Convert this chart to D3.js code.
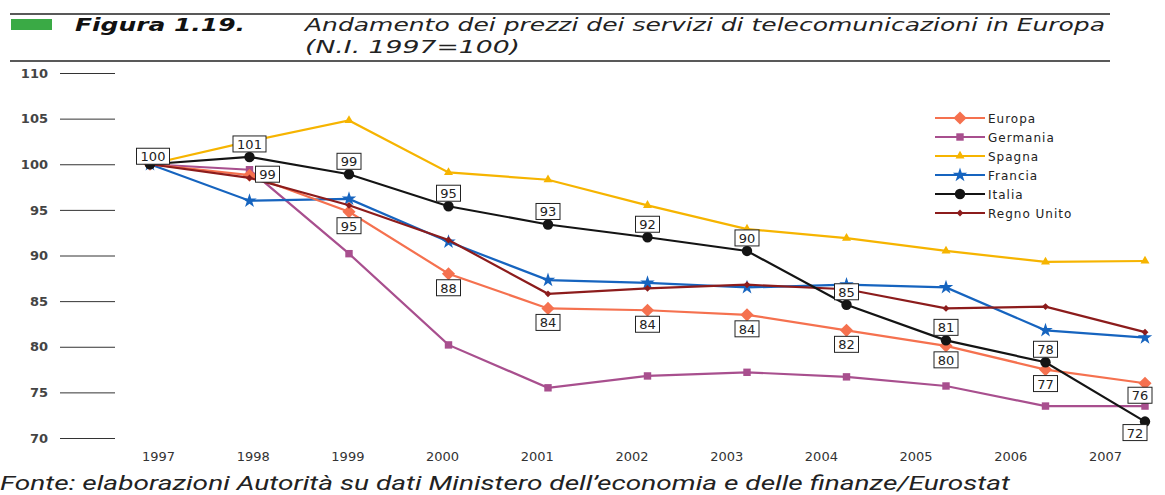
<!DOCTYPE html>
<html>
<head>
<meta charset="utf-8">
<script src="https://cdn.jsdelivr.net/npm/d3@7"></script>
<style>
	body { margin: 0; background: #fff; }
	text { font-family: "DejaVu Sans", Verdana, sans-serif; }
</style>
</head>
<body>
<svg id="chart"></svg>
<script>
// Chart data
const years = [1997, 1998, 1999, 2000, 2001, 2002, 2003, 2004, 2005, 2006, 2007];
const europa = [100, 98.8, 94.8, 88.0, 84.2, 84.0, 83.5, 81.8, 80.1, 77.5, 76.0];
const germania = [100, 99.4, 90.2, 80.2, 75.5, 76.8, 77.2, 76.7, 75.7, 73.5, 73.5];
const spagna = [100, 102.5, 104.8, 99.1, 98.3, 95.5, 92.9, 91.9, 90.5, 89.3, 89.4];
const francia = [100, 96.0, 96.2, 91.5, 87.3, 87.0, 86.5, 86.8, 86.5, 81.8, 81.0];
const italia = [100, 100.8, 98.9, 95.4, 93.4, 92.0, 90.5, 84.6, 80.7, 78.3, 71.8];
const regnoUnito = [100, 98.5, 95.5, 91.7, 85.8, 86.4, 86.8, 86.3, 84.2, 84.4, 81.6];

const italiaLabels = ["100", "101", "99", "95", "93", "92", "90", "85", "81", "78", "72"];
const europaLabels = [null, "99", "95", "88", "84", "84", "84", "82", "80", "77", "76"];

const yTicks = [70, 75, 80, 85, 90, 95, 100, 105, 110];

const width = 1165;
const height = 495;

const series = [
	{ name: "Germania", values: germania, color: "#a84f8e", symbol: d3.symbolSquare, size: 55 },
	{ name: "Spagna", values: spagna, color: "#f6b400", symbol: d3.symbolTriangle, size: 35 },
	{ name: "Francia", values: francia, color: "#1664bf", symbol: d3.symbolStar, size: 65 },
	{ name: "Europa", values: europa, color: "#f5714f", symbol: d3.symbolDiamond2, size: 110 },
	{ name: "Regno Unito", values: regnoUnito, color: "#8c1c1c", symbol: d3.symbolDiamond2, size: 30 },
	{ name: "Italia", values: italia, color: "#141414", symbol: d3.symbolCircle, size: 85 },
];
const legendOrder = ["Europa", "Germania", "Spagna", "Francia", "Italia", "Regno Unito"];

const svg = d3.select("#chart").attr("width", width).attr("height", height);

// Header
svg.append("line").attr("x1", 10).attr("x2", 1110).attr("y1", 14).attr("y2", 14)
	.attr("stroke", "#222").attr("stroke-width", 1.5);
svg.append("line").attr("x1", 10).attr("x2", 1110).attr("y1", 61).attr("y2", 61)
	.attr("stroke", "#222").attr("stroke-width", 1.5);
svg.append("rect").attr("x", 11).attr("y", 19).attr("width", 41).attr("height", 11).attr("fill", "#3aaa45");
svg.append("text").attr("x", 75).attr("y", 31)
	.attr("font-size", 18).attr("font-weight", "bold").attr("font-style", "italic")
	.attr("textLength", 170).attr("lengthAdjust", "spacingAndGlyphs")
	.attr("fill", "#111").text("Figura 1.19.");
svg.append("text").attr("x", 305).attr("y", 31)
	.attr("font-size", 18).attr("font-style", "italic").attr("fill", "#222")
	.attr("textLength", 800).attr("lengthAdjust", "spacingAndGlyphs")
	.text("Andamento dei prezzi dei servizi di telecomunicazioni in Europa");
svg.append("text").attr("x", 305).attr("y", 53)
	.attr("font-size", 18).attr("font-style", "italic").attr("fill", "#222")
	.attr("textLength", 215).attr("lengthAdjust", "spacingAndGlyphs")
	.text("(N.I. 1997=100)");

// Scales
const xScale = d3.scaleLinear().domain([1997, 2007]).range([150, 1145]);
const xLabelScale = d3.scaleLinear().domain([1997, 2007]).range([158, 1105]);
const yScale = d3.scaleLinear().domain([70, 110]).range([438, 73]);

// Y axis
const yAxis = svg.append("g")
	.attr("transform", "translate(115,0)")
	.call(d3.axisLeft(yScale).tickValues(yTicks).tickSize(55).tickPadding(12));
yAxis.select(".domain").remove();
yAxis.selectAll("line").attr("stroke", "#333");
yAxis.selectAll("text").attr("font-size", 13).attr("font-weight", "bold")
	.attr("fill", "#444").style("font-family", "DejaVu Sans, sans-serif");

// X axis labels
const xAxis = svg.append("g")
	.attr("transform", "translate(0,446)")
	.call(d3.axisBottom(xLabelScale).tickValues(years).tickFormat(d3.format("d")).tickSize(0).tickPadding(6));
xAxis.select(".domain").remove();
xAxis.selectAll("text").attr("font-size", 13)
	.attr("fill", "#333").style("font-family", "DejaVu Sans, sans-serif");

// Lines
const line = d3.line().x((d, i) => xScale(years[i])).y((d) => yScale(d));

series.forEach((s) => {
	svg.append("path")
		.datum(s.values)
		.attr("d", line)
		.attr("fill", "none")
		.attr("stroke", s.color)
		.attr("stroke-width", 2.2);

	svg.selectAll(null)
		.data(s.values)
		.join("path")
		.attr("transform", (d, i) => `translate(${xScale(years[i])},${yScale(d)})`)
		.attr("d", d3.symbol().type(s.symbol).size(s.size))
		.attr("fill", s.color);
});

// Value labels
function drawLabel(x, y, txt) {
	const g = svg.append("g").attr("transform", `translate(${x},${y})`);
	const w = txt.length * 9 + 6;
	g.append("rect").attr("x", -w / 2).attr("y", -8).attr("width", w).attr("height", 16)
		.attr("fill", "#fff").attr("stroke", "#222").attr("stroke-width", 1);
	g.append("text").attr("text-anchor", "middle").attr("y", 5)
		.attr("font-size", 13).attr("fill", "#222").text(txt);
}

italia.forEach((v, i) => {
	const x = xScale(years[i]);
	const y = yScale(v);
	if (i === italia.length - 1) drawLabel(x - 10, y + 11, italiaLabels[i]);
	else if (i === 0) drawLabel(x + 3, y - 8, italiaLabels[i]);
	else drawLabel(x, y - 13, italiaLabels[i]);
});

europa.forEach((v, i) => {
	if (!europaLabels[i]) return;
	const x = xScale(years[i]);
	const y = yScale(v);
	if (i === 1) drawLabel(x + 18, y - 1, europaLabels[i]);
	else if (i === europa.length - 1) drawLabel(x - 5, y + 12, europaLabels[i]);
	else drawLabel(x, y + 14, europaLabels[i]);
});

// Legend
const legend = svg.append("g").attr("transform", "translate(935,118)");
legendOrder.forEach((name, i) => {
	const s = series.find((d) => d.name === name);
	const row = legend.append("g").attr("transform", `translate(0,${i * 19})`);
	row.append("line").attr("x1", 0).attr("x2", 50).attr("stroke", s.color).attr("stroke-width", 2.2);
	row.append("path").attr("transform", "translate(25,0)")
		.attr("d", d3.symbol().type(s.symbol).size(s.size)).attr("fill", s.color);
	row.append("text").attr("x", 53).attr("y", 4.5).attr("font-size", 12)
		.attr("letter-spacing", 1).attr("fill", "#222").text(name);
});

// Source
svg.append("text").attr("x", 0).attr("y", 490)
	.attr("font-size", 20).attr("font-style", "italic").attr("fill", "#222")
	.style("font-family", "Liberation Sans Narrow, Roboto, sans-serif")
	.attr("textLength", 1010).attr("lengthAdjust", "spacingAndGlyphs")
	.text("Fonte: elaborazioni Autorità su dati Ministero dell’economia e delle finanze/Eurostat");
</script>
</body>
</html>
